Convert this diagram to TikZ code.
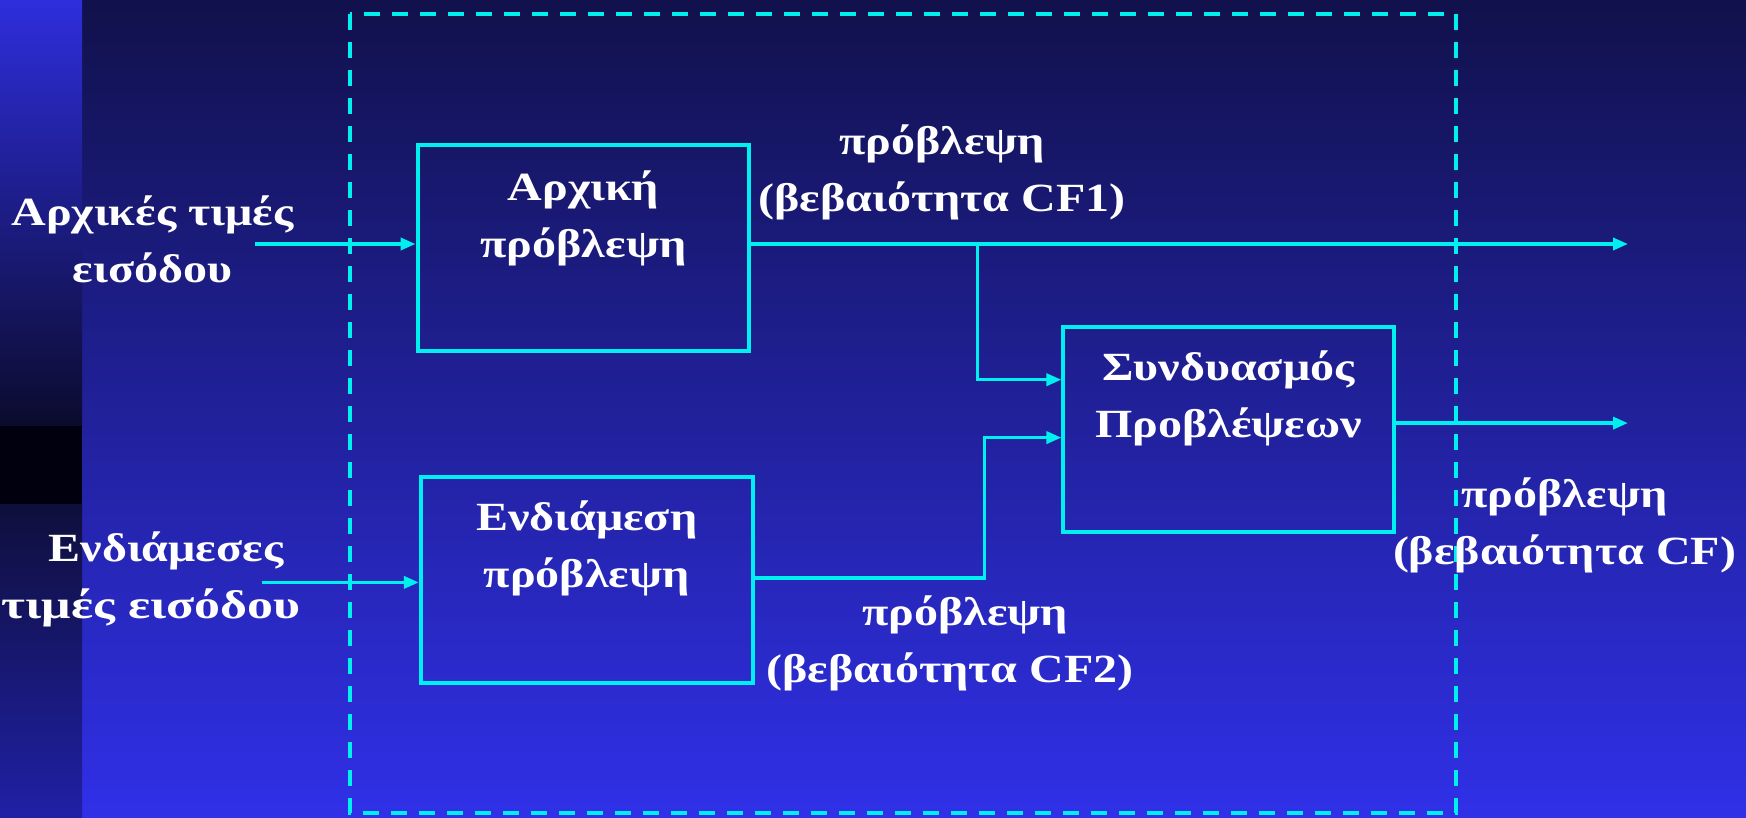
\documentclass[tikz,border=0pt]{standalone}
\usepackage{fontspec}
\setmainfont{Liberation Serif}[FakeStretch=1.2]
\usetikzlibrary{arrows.meta}
\definecolor{cy}{HTML}{00F0F0}
\definecolor{bgtop}{HTML}{11114C}
\definecolor{bgbot}{HTML}{3030E8}
\definecolor{striptop}{HTML}{2E2EDC}
\definecolor{stripmid}{HTML}{0B0B2E}
\definecolor{stripband}{HTML}{00000E}
\definecolor{striplow}{HTML}{0F0F3C}
\definecolor{stripbot}{HTML}{2020A6}
\tikzset{
  blockbox/.style={draw=cy, line width=4pt, minimum width=331.8pt, minimum height=206pt, inner sep=0pt},
  wirex/.style={draw=cy, line width=3.5pt},
  arr/.style={wirex, -{Triangle[length=15pt,width=12pt]}},
  txt/.style={text=white, font=\fontsize{40}{57}\selectfont\bfseries, align=center, inner sep=0pt},
}
\begin{document}
\begin{tikzpicture}[x=1pt,y=-1pt]
\useasboundingbox (0,0) rectangle (1746,817);
% background
\shade[top color=bgtop, bottom color=bgbot] (0,0) rectangle (1746,817);
\shade[top color=striptop, bottom color=stripmid] (0,0) rectangle (82,426);
\fill[stripband] (0,426) rectangle (82,504);
\shade[top color=striplow, bottom color=stripbot] (0,504) rectangle (82,817);
% dashed frame
\draw[cy, line width=4pt, dash pattern=on 16pt off 12pt] (349.6,14) rectangle (1456,813);
% blocks
\node[blockbox] (b1) at (583.5,248.3) {};
\node[blockbox] (b2) at (586.8,579.6) {};
\node[blockbox, minimum width=330.7pt, minimum height=204.9pt] (b3) at (1228.8,429.9) {};
% texts
\node[txt] (t1) at (583.5,218.3) {Αρχική\\πρόβλεψη};
\node[txt] (t2) at (586.8,547.9) {Ενδιάμεση\\πρόβλεψη};
\node[txt] (t3) at (1228.5,398.1) {Συνδυασμός\\Προβλέψεων};
\node[txt] (in1) at (152.5,239.4) {Αρχικές τιμές\\εισόδου};
\node[txt] (in2) at (151,579.6) {\hspace*{30pt}Ενδιάμεσες\\\scalebox{1.08}[1]{τιμές εισόδου}};
\node[txt] (l1) at (942,172.6) {πρόβλεψη\\(βεβαιότητα CF1)};
\node[txt] (l2) at (950,643) {\hspace*{30pt}πρόβλεψη\\(βεβαιότητα CF2)};
\node[txt] (l3) at (1564.5,525.6) {πρόβλεψη\\(βεβαιότητα CF)};
% connector points
\coordinate (s1) at (255,244);
\coordinate (s2) at (261.7,582.4);
\coordinate (o1) at (1628,244);
\coordinate (o3) at (1628,423.1);
\coordinate (j1) at (977.7,244);
\coordinate (k1) at (977.7,379.7);
\coordinate (j2) at (984.3,577.9);
\coordinate (k2) at (984.3,437.6);
% connectors
\draw[arr] (s1) -- (s1 -| b1.west);
\draw[arr] (s2) -- (s2 -| b2.west);
\draw[arr] (s1 -| b1.east) -- (o1);
\draw[arr] (j1) -- (k1) -- (k1 -| b3.west);
\draw[arr] (j2 -| b2.east) -- (j2) -- (k2) -- (k2 -| b3.west);
\draw[arr] (o3 -| b3.east) -- (o3);
\end{tikzpicture}
\end{document}
